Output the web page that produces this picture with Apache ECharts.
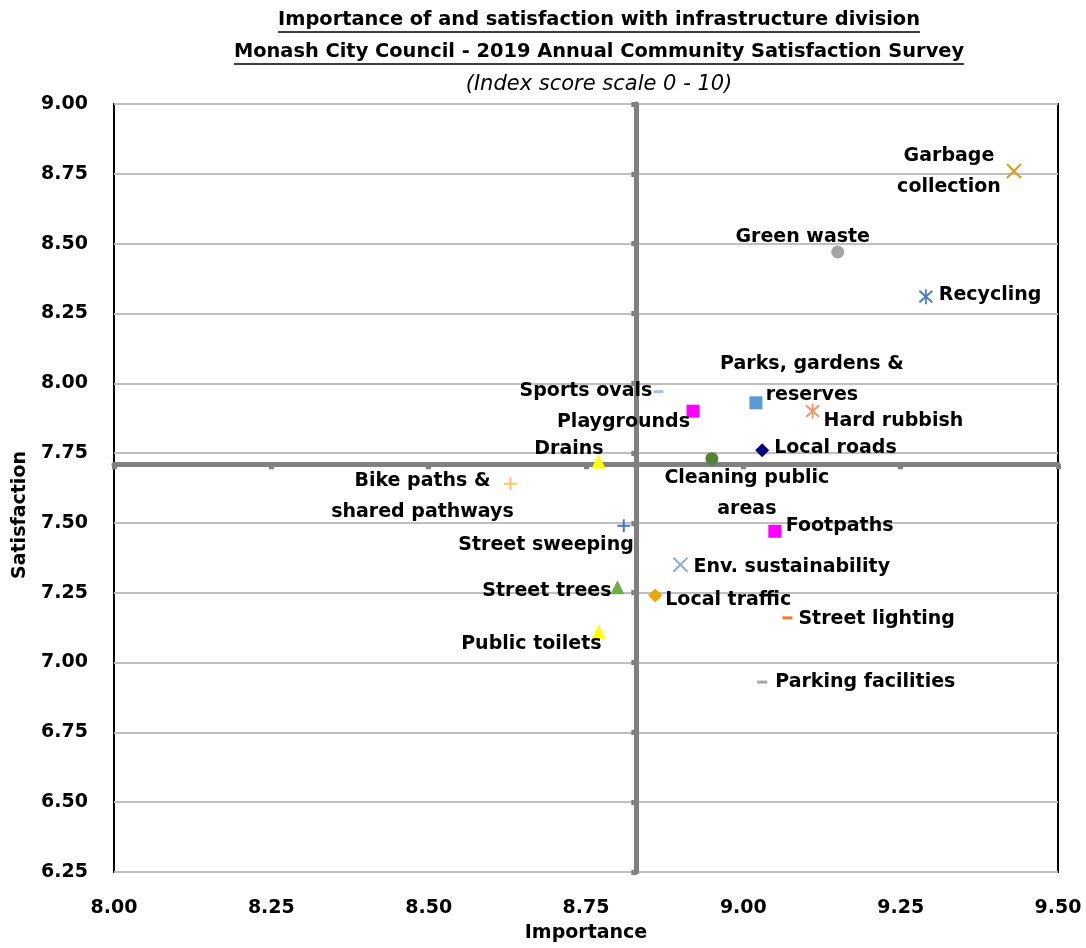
<!DOCTYPE html>
<html><head><meta charset="utf-8">
<script src="https://cdn.jsdelivr.net/npm/echarts@6/dist/echarts.min.js"></script>
<style>html,body{margin:0;padding:0;background:#fff}#c{width:1086px;height:948px}</style>
</head><body><div id="c"></div>
<script>
// ---------- data ----------
const categories = ['Garbage collection','Green waste','Recycling','Parks, gardens & reserves','Hard rubbish','Sports ovals','Playgrounds','Local roads','Cleaning public areas','Drains','Bike paths & shared pathways','Street sweeping','Env. sustainability','Footpaths','Street trees','Local traffic','Street lighting','Public toilets','Parking facilities'];
const labelText = ['Garbage\ncollection','Green waste','Recycling','Parks, gardens &\nreserves','Hard rubbish','Sports ovals','Playgrounds','Local roads','Cleaning public\nareas','Drains','Bike paths &\nshared pathways','Street sweeping','Env. sustainability','Footpaths','Street trees','Local traffic','Street lighting','Public toilets','Parking facilities'];
const importance   = [9.43, 9.15, 9.29, 9.02, 9.11, 8.865, 8.92, 9.03, 8.95, 8.77, 8.63, 8.81, 8.90, 9.05, 8.80, 8.86, 9.07, 8.77, 9.03];
const satisfaction = [8.76, 8.47, 8.31, 7.93, 7.90, 7.97, 7.90, 7.76, 7.73, 7.72, 7.64, 7.49, 7.35, 7.47, 7.27, 7.24, 7.16, 7.11, 6.93];
const crossImportance = 8.83;
const crossSatisfaction = 7.71;
const xMin = 8.00, xMax = 9.50, xStep = 0.25;
const yMin = 6.25, yMax = 9.00, yStep = 0.25;
const titleLines = ['Importance of and satisfaction with infrastructure division', 'Monash City Council - 2019 Annual Community Satisfaction Survey', '(Index score scale 0 - 10)'];
const xName = 'Importance';
const yName = 'Satisfaction';

// ---------- styles ----------
const markerKind = ['x','circle','star','square','star','dash','square','diamond','circle','triangle','plus','plus','x','square','triangle','diamond','dash','triangle','dash'];
const markerColor = ['#D4A017','#A5A5A5','#4E80C0','#5B9BD5','#F2976B','#9DC3E6','#FF00FF','#000080','#548235','#FFFF00','#FFC06A','#4472C4','#8FAADC','#FF00FF','#70AD47','#EDA800','#ED7D31','#FFFF00','#A5A5A5'];
// [align, dx, dy] of the label anchor relative to the marker centre
const labelPlace = [
  ['center',-65,1],['center',-35,-15],['left',13,-2],['center',56,-23],['left',11,10],
  ['right',-6,-1],['right',-3,11],['left',12,-2],['center',35,35],['right',5,-12],
  ['center',-88,13],['right',10,19],['left',13,2],['left',11,-5],['right',-6,4],
  ['left',10,5],['left',11,1],['right',3,12],['left',13,0]
];
const FONT = "'DejaVu Sans'";
const kindStyle = {
  x:       {symbol:'path://M0,0L10,10M10,0L0,10', size:14, stroke:true},
  star:    {symbol:'path://M0,0L10,10M10,0L0,10M5,-1.5L5,11.5', size:[13,15], stroke:true},
  plus:    {symbol:'path://M5,0L5,10M0,5L10,5', size:13, stroke:true},
  dash:    {symbol:'rect', size:[10,3]},
  square:  {symbol:'rect', size:13},
  diamond: {symbol:'diamond', size:14},
  circle:  {symbol:'circle', size:13},
  triangle:{symbol:'triangle', size:14}
};

const data = categories.map((name, i) => {
  const k = kindStyle[markerKind[i]];
  const p = labelPlace[i];
  return {
    name: name,
    value: [importance[i], satisfaction[i]],
    symbol: k.symbol,
    symbolSize: k.size,
    itemStyle: k.stroke
      ? {color:'transparent', borderColor: markerColor[i], borderWidth: 2, opacity: 1}
      : {color: markerColor[i], opacity: 1},
    label: {
      show: true, formatter: labelText[i], position: 'inside',
      align: p[0], verticalAlign: 'middle', offset: [p[1], p[2]],
      color: '#000000', opacity: 1, textBorderWidth: 0, textBorderColor: 'transparent',
      textShadowBlur: 0, textShadowColor: 'transparent',
      fontFamily: FONT, fontWeight: 'bold', fontSize: 19, lineHeight: 31
    }
  };
});

const grid = {left:114, right:28, top:104, bottom:76};
const numFmt = v => v.toFixed(2);
const tickFont = {color:'#000', fontFamily: FONT, fontWeight:'bold', fontSize:19};

const chart = echarts.init(document.getElementById('c'), null, {renderer:'canvas'});

function measure(text, font) {
  const ctx = document.createElement('canvas').getContext('2d');
  ctx.font = font;
  return ctx.measureText(text).width;
}
const titleCx = 599;
const tFont1 = 'bold 19.4px ' + FONT;
const tFont3 = 'italic 21px ' + FONT;
const graphics = [];
[[titleLines[0], 20, tFont1, true], [titleLines[1], 52, tFont1, true], [titleLines[2], 85, tFont3, false]].forEach(t => {
  graphics.push({type:'text', x:titleCx, y:t[1], style:{text:t[0], font:t[2], fill:'#000', align:'center', verticalAlign:'middle'}});
  if (t[3]) {
    const w = measure(t[0], t[2]);
    graphics.push({type:'line', shape:{x1:titleCx - w/2, y1:t[1]+12, x2:titleCx + w/2, y2:t[1]+12}, style:{stroke:'#000', lineWidth:1.5}});
  }
});

const crossAxisCommon = {
  type:'value', gridIndex:0, axisLabel:{show:false}, splitLine:{show:false},
  axisLine:{show:true, onZero:false, lineStyle:{color:'#808080', width:5}},
  axisTick:{show:true, length:5, lineStyle:{color:'#808080', width:5}}
};

const option = {
  animation: false,
  backgroundColor: '#fff',
  graphic: graphics,
  grid: Object.assign({show:true, borderColor:'#000', borderWidth:2, backgroundColor:'#fff'}, grid),
  xAxis: [
    {type:'value', min:xMin, max:xMax, interval:xStep, name:xName, nameLocation:'middle', nameGap:52,
     nameTextStyle:Object.assign({}, tickFont),
     axisLine:{show:false, onZero:false}, axisTick:{show:false}, splitLine:{show:false},
     axisLabel:Object.assign({formatter:numFmt, margin:27}, tickFont)},
    Object.assign({min:xMin, max:xMax, interval:xStep, position:'bottom', offset:0}, crossAxisCommon)
  ],
  yAxis: [
    {type:'value', min:yMin, max:yMax, interval:yStep, name:yName, nameLocation:'middle', nameGap:84,
     nameTextStyle:Object.assign({padding:[0,54,0,0]}, tickFont),
     axisLine:{show:false, onZero:false}, axisTick:{show:false},
     splitLine:{show:true, lineStyle:{color:'#BFBFBF', width:2}},
     axisLabel:Object.assign({formatter:numFmt, margin:26}, tickFont)},
    Object.assign({min:yMin, max:yMax, interval:yStep, position:'left', offset:0}, crossAxisCommon)
  ],
  series: [{
    type:'scatter', xAxisIndex:0, yAxisIndex:0, data:data, z:5,
    itemStyle:{opacity:1},
    emphasis:{disabled:true}
  }]
};
chart.setOption(option);

// place the crossing axes at the crossing values
const px = chart.convertToPixel({xAxisIndex:0}, crossImportance);
const py = chart.convertToPixel({yAxisIndex:0}, crossSatisfaction);
const gridBottomY = 948 - grid.bottom;
chart.setOption({
  xAxis: [{}, {offset: py - gridBottomY}],
  yAxis: [{}, {offset: grid.left - px}]
});
</script></body></html>
